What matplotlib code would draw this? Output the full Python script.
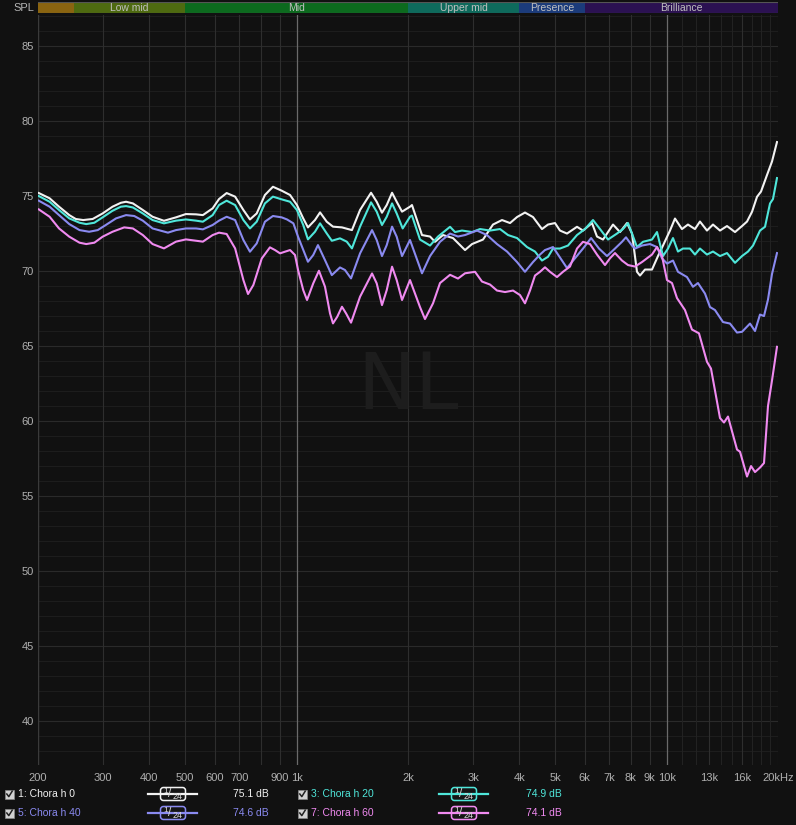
import numpy as np
import matplotlib
matplotlib.use("Agg")
import matplotlib.pyplot as plt
from matplotlib.patches import Rectangle, FancyBboxPatch

plt.rcParams['font.family'] = ['Liberation Sans', 'DejaVu Sans']

# ---- measured responses (frequency in Hz, SPL in dB) ----
h0_freq = [201, 215, 228, 243, 253, 265, 281, 299, 318, 335, 346, 361, 384, 408, 438, 472,
           502, 535, 558, 593, 617, 647, 682, 718, 748, 780, 821, 863, 911, 960, 1002, 1042,
           1073, 1121, 1157, 1206, 1254, 1326, 1411, 1484, 1589, 1646, 1701, 1752, 1811,
           1864, 1927, 2025, 2050, 2182, 2294, 2366,
           2487, 2646, 2852, 2979, 3190, 3394, 3590, 3774, 3942, 4142, 4354, 4604, 4780,
           4993, 5150, 5380, 5725, 5943, 6285, 6484, 6731, 7163, 7482, 7815, 8062, 8316,
           8473, 8741, 9130, 9477, 9777, 10212, 10535, 11002, 11420, 11928, 12306, 12855,
           13345, 13940, 14561, 15306, 15988, 16493, 17014, 17552, 17994, 18676, 19266, 19874]
h0_db = [75.2, 74.85, 74.29, 73.73, 73.47, 73.4, 73.47, 73.84, 74.29, 74.55, 74.62, 74.51,
         74.07, 73.62, 73.35, 73.58, 73.8, 73.78, 73.73, 74.18, 74.8, 75.2, 74.96, 74.07,
         73.44, 73.84, 75.07, 75.62, 75.36, 75.07, 74.4, 73.51, 72.91, 73.4, 73.91, 73.29,
         72.96, 72.91, 72.73, 74.07, 75.22, 74.62, 73.89, 74.4, 75.22, 74.62, 73.96, 74.29,
         74.4, 72.4, 72.3, 71.95,
         72.4, 72.2, 71.4, 71.8, 72.1, 73.1, 73.4, 73.2, 73.6, 73.9, 73.6, 72.8, 73.1,
         73.2, 72.7, 72.5, 72.95, 72.7, 73.2, 72.3, 72.1, 73.1, 72.6, 73.2, 72.5, 69.95,
         69.7, 70.1, 70.1, 71.0, 71.7, 72.7, 73.5, 72.8, 73.1, 72.8, 73.3, 72.7,
         73.1, 72.7, 73.0, 72.6, 73.0, 73.3, 73.95, 74.95, 75.3, 76.4, 77.3, 78.6]

h20_freq = [201, 215, 228, 243, 259, 270, 284, 299, 318, 335, 346, 361, 384, 408, 438, 472,
            502, 535, 558, 593, 617, 647, 682, 718, 748, 780, 821, 863, 911, 960, 1002, 1042,
            1073, 1121, 1157, 1206, 1245, 1310, 1366, 1411, 1484, 1589, 1646, 1701, 1752,
            1811, 1864, 1935, 2025, 2050, 2155, 2294, 2411,
            2598, 2680, 2799, 2979, 3131, 3332, 3546, 3727, 3942, 4194, 4408, 4604, 4780,
            4931, 5150, 5413, 5725, 6017, 6325, 6606, 6943, 7343, 7622, 7864, 8062, 8316,
            8633, 9130, 9419, 9596, 9777, 10086, 10405, 10732, 11071, 11563, 11928, 12306,
            12855, 13345, 13940, 14561, 15306, 15988, 16596, 17120, 17882, 18446, 19028,
            19386, 19874]
h20_db = [75.0, 74.62, 74.07, 73.51, 73.22, 73.13, 73.22, 73.58, 74.02, 74.29, 74.33, 74.24,
          73.84, 73.4, 73.18, 73.36, 73.44, 73.36, 73.29, 73.73, 74.4, 74.69, 74.4, 73.4,
          72.84, 73.29, 74.51, 74.96, 74.78, 74.62, 74.07, 73.07, 72.11, 72.62, 73.18, 72.51,
          72.02, 72.18, 71.96, 71.51, 72.96, 74.58, 73.96, 73.07, 73.62, 74.51, 73.84, 72.84,
          73.62, 73.7, 72.1, 71.7, 72.3,
          72.95, 72.6, 72.7, 72.6, 72.8, 72.7, 72.8, 72.4, 72.2, 71.6, 71.3, 70.7, 70.95,
          71.5, 71.5, 71.7, 72.4, 72.8, 73.4, 72.8, 72.1, 72.5, 72.8, 73.2, 72.5, 71.6,
          71.95, 72.1, 72.6, 71.8, 71.0, 71.5, 72.2, 71.3, 71.5, 71.5, 71.1, 71.5,
          71.1, 71.3, 71.0, 71.2, 70.55, 71.0, 71.3, 71.7, 72.7, 72.95, 74.5,
          74.8, 76.2]

h40_freq = [201, 215, 228, 243, 259, 275, 290, 305, 325, 346, 364, 384, 408, 449, 472, 502,
            535, 558, 593, 617, 647, 682, 718, 748, 780, 821, 863, 911, 942, 980, 1009, 1073,
            1109, 1142, 1193, 1245, 1310, 1351, 1403, 1484, 1599, 1646, 1701, 1752, 1811,
            1864, 1927, 2025, 2182, 2294, 2441, 2598,
            2730, 2852, 3073, 3270, 3480, 3704, 3942, 4142, 4354, 4548, 4691, 4931, 5087,
            5380, 5654, 5943, 6250, 6565, 6900, 7252, 7575, 7766, 8062, 8214, 8579, 9017,
            9419, 9716, 10023, 10405, 10732, 11350, 11781, 12154, 12696, 13098, 13512,
            14203, 14835, 15497, 15988, 16803, 17334, 17882, 18332, 18793, 19266, 19874]
h40_db = [74.69, 74.29, 73.73, 73.13, 72.73, 72.62, 72.73, 73.07, 73.51, 73.73, 73.67, 73.36,
          72.84, 72.56, 72.73, 72.84, 72.84, 72.78, 73.07, 73.36, 73.62, 73.4, 72.07, 71.29,
          71.84, 73.29, 73.67, 73.58, 73.44, 73.18, 72.29, 70.62, 71.07, 71.73, 70.73, 69.73,
          70.24, 70.07, 69.51, 71.18, 72.73, 72.07, 71.0, 71.73, 72.96, 72.29, 71.0, 72.07,
          69.85, 71.0, 71.95, 72.5,
          72.3, 72.4, 72.7, 72.4, 71.8, 71.3, 70.6, 69.95, 70.6, 71.1, 71.4, 71.6, 71.1,
          70.2, 70.85, 71.5, 72.2, 71.5, 71.0, 71.5, 71.95, 72.25, 71.7, 71.5, 71.7, 71.8,
          71.6, 70.85, 70.5, 70.7, 69.95, 69.6, 68.95, 69.2, 68.5, 67.6, 67.4,
          66.6, 66.5, 65.9, 65.95, 66.5, 66.0, 67.1, 67.0, 68.1, 69.8, 71.2]

h60_freq = [201, 215, 228, 243, 259, 270, 284, 299, 318, 342, 361, 384, 408, 438, 472, 502,
            535, 558, 593, 617, 647, 682, 718, 739, 764, 805, 847, 874, 902, 930, 960, 990,
            1009, 1042, 1067, 1109, 1149, 1193, 1231, 1254, 1288, 1326, 1360, 1403, 1484,
            1599, 1646, 1701, 1752, 1811, 1864, 1927, 2025, 2155, 2223, 2337,
            2441, 2598, 2730, 2852, 3035, 3170, 3332, 3480, 3658, 3845, 4015, 4142, 4273,
            4408, 4548, 4691, 4839, 5055, 5247, 5481, 5725, 5943, 6208, 6484, 6815, 7030,
            7252, 7575, 7864, 8214, 8579, 8850, 9130, 9419, 9716, 10023, 10340, 10666,
            11210, 11708, 12230, 12855, 13180, 13940, 14291, 14652, 15497, 15791, 16493,
            16909, 17334, 17882, 18332, 18793, 19266, 19874]
h60_db = [74.11, 73.62, 72.84, 72.29, 71.89, 71.8, 71.89, 72.29, 72.62, 72.91, 72.84, 72.4,
          71.8, 71.51, 71.96, 72.11, 72.02, 71.96, 72.4, 72.56, 72.47, 71.51, 69.4, 68.47,
          69.07, 70.84, 71.58, 71.4, 71.18, 71.29, 71.4, 71.07, 70.07, 68.73, 68.07, 69.18,
          70.02, 68.96, 67.18, 66.51, 66.96, 67.62, 67.18, 66.56, 68.29, 69.84, 69.18, 67.73,
          68.73, 70.29, 69.4, 68.07, 69.4, 67.6, 66.8, 67.85,
          69.2, 69.75, 69.5, 69.85, 69.95, 69.3, 69.1, 68.7, 68.6, 68.7, 68.4, 67.85, 68.7,
          69.7, 69.95, 70.25, 69.95, 69.6, 69.95, 70.3, 71.5, 71.95, 71.8, 71.1, 70.4, 70.85,
          71.2, 70.7, 70.4, 70.3, 70.6, 70.85, 71.1, 71.6, 71.0, 69.4, 69.2, 68.2,
          67.4, 66.1, 65.85, 63.95, 63.5, 60.2, 59.9, 60.3, 58.1, 57.95, 56.3,
          57.0, 56.6, 56.9, 57.2, 61.0, 62.7, 64.95]

names = ["1: Chora h 0", "3: Chora h 20", "5: Chora h 40", "7: Chora h 60"]
levels = ["75.1 dB", "74.9 dB", "74.6 dB", "74.1 dB"]
colors = ["#f2f2f2", "#4fe6da", "#8a8af0", "#f08af0"]

band_names = ["", "Low mid", "Mid", "Upper mid", "Presence", "Brilliance"]
band_edges = [200, 250, 500, 2000, 4000, 6000, 20000]
band_colors = ["#8a6410", "#4e6a10", "#0c6a1e", "#0e6a5c", "#1b3b7b", "#2b1152"]

xtick_vals = [200, 300, 400, 500, 600, 700, 900, 1000, 2000, 3000, 4000, 5000, 6000,
              7000, 8000, 9000, 10000, 13000, 16000, 20000]
xtick_labels = ["200", "300", "400", "500", "600", "700", "900", "1k", "2k", "3k", "4k",
                "5k", "6k", "7k", "8k", "9k", "10k", "13k", "16k", "20kHz"]
ytick_vals = [40, 45, 50, 55, 60, 65, 70, 75, 80, 85]

W, H = 796, 825
bg = "#111111"
fig = plt.figure(figsize=(W / 100, H / 100), dpi=100, facecolor=bg)

ax = fig.add_axes([38 / W, 60 / H, 740 / W, 750 / H])
ax.set_facecolor(bg)
ax.set_xscale("log")
ax.set_xlim(200, 20000)
ax.set_ylim(37.07, 87.07)
ax.minorticks_off()

# grid
for db in range(37, 88):
    ax.axhline(db, color="#2a2a2a" if db % 5 == 0 else "#1d1d1d", lw=0.8, zorder=0)
grid_f = list(range(200, 1000, 100)) + list(range(1000, 10000, 1000)) + list(range(10000, 20001, 1000))
for f in grid_f:
    if f in (1000, 10000):
        ax.axvline(f, color="#6a6a6a", lw=0.9, zorder=1)
    elif f > 10000 and f not in (13000, 16000, 20000):
        ax.axvline(f, color="#222222", lw=0.8, zorder=0)
    else:
        ax.axvline(f, color="#2e2e2e", lw=0.8, zorder=0)

ax.text(2000, 62.3, "NL", color="#1d1d1d", fontsize=56,
        ha="center", va="center", family="DejaVu Sans", zorder=1)

for fr, db, c in zip([h0_freq, h20_freq, h40_freq, h60_freq],
                     [h0_db, h20_db, h40_db, h60_db], colors):
    ax.plot(fr, db, color=c, lw=1.5, zorder=3, solid_joinstyle="round")

ax.set_xticks(xtick_vals)
ax.set_xticklabels(xtick_labels)
for lab, v in zip(ax.get_xticklabels(), xtick_vals):
    lab.set_color("#707070" if v in (13000, 16000) else "#b4b4b4")
ax.set_yticks(ytick_vals)
ax.tick_params(axis="both", length=0, labelsize=8, colors="#b0b0b0")
ax.tick_params(axis="x", pad=6)
ax.tick_params(axis="y", pad=3)
for s in ax.spines.values():
    s.set_visible(False)
ax.axvline(200, color="#3a3a3a", lw=1, zorder=2)

# frequency band strip
bax = fig.add_axes([38 / W, (H - 13) / H, 740 / W, 11 / H])
bax.set_xscale("log")
bax.set_xlim(200, 20000)
bax.set_ylim(0, 1)
bax.axis("off")
for i, name in enumerate(band_names):
    lo, hi = band_edges[i], band_edges[i + 1]
    bax.axvspan(lo, hi, color=band_colors[i], lw=0)
    if name:
        bax.text(np.sqrt(lo * hi), 0.45, name, color="#c0c0c0", fontsize=7.5,
                 ha="center", va="center")
bax.axhline(0.02, color="#555555", lw=0.8)
bax.axhline(0.98, color="#555555", lw=0.8)

fig.text(13 / W, 1 - 8 / H, "SPL", color="#b4b4b4", fontsize=8, va="center")

# legend rows (pixel coordinates)
lax = fig.add_axes([0, 0, 1, 1])
lax.set_xlim(0, W)
lax.set_ylim(H, 0)
lax.axis("off")
lax.patch.set_alpha(0)

cols = [(5, 148, 233), (298, 439, 526)]
rows = [794, 813]
for i in range(4):
    cx, ix, vx = cols[i % 2]
    y = rows[i // 2]
    c = colors[i]
    lax.add_patch(Rectangle((cx, y - 4.5), 9, 9, facecolor="#d2d2d2", edgecolor="#8a8a8a", lw=0.5))
    lax.plot([cx + 1.8, cx + 3.8, cx + 7.2], [y, y + 2.6, y - 2.8], color="#222222", lw=1.1)
    lax.text(cx + 13, y, names[i], color=c, fontsize=7.5, va="center")
    lax.plot([ix, ix + 49], [y, y], color=c, lw=1.6)
    lax.add_patch(FancyBboxPatch((ix + 12.5, y - 6.5), 25, 13,
                                 boxstyle="round,pad=0,rounding_size=3",
                                 facecolor="#151515", edgecolor=c, lw=1.1))
    lax.text(ix + 18, y - 2.2, "1", color="#d8d8d8", fontsize=6, ha="center", va="center")
    lax.text(ix + 22, y + 0.3, "/", color="#d8d8d8", fontsize=8.5, ha="center", va="center")
    lax.text(ix + 29.5, y + 2.4, "24", color="#d8d8d8", fontsize=6.5, ha="center", va="center")
    lax.text(vx, y, levels[i], color=c, fontsize=7.5, va="center")

fig.savefig("out.png", dpi=100, facecolor=bg)
